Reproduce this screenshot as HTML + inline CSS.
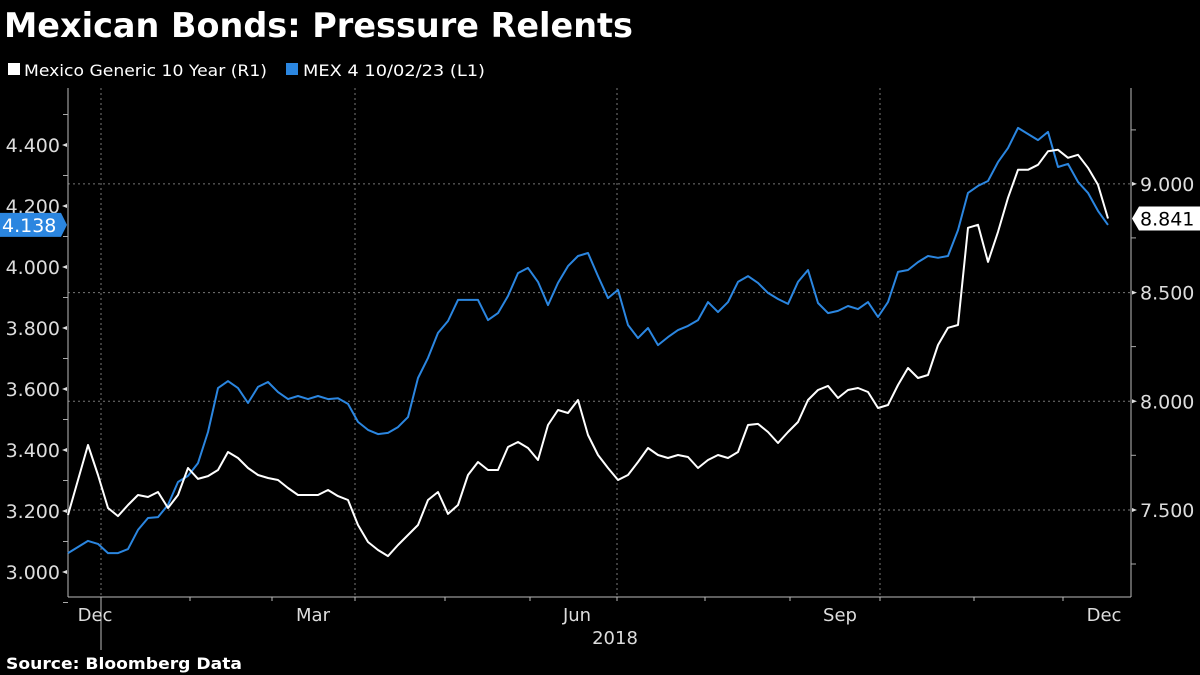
<!DOCTYPE html>
<html><head><meta charset="utf-8"><style>
html,body{margin:0;padding:0;background:#000;width:1200px;height:675px;overflow:hidden}
svg{display:block;font-family:"DejaVu Sans","Liberation Sans",sans-serif}
</style></head><body>
<svg id="chart" width="1200" height="675" viewBox="0 0 1200 675">
<text x="4" y="37" font-size="34" font-weight="bold" fill="#fff" textLength="629" lengthAdjust="spacingAndGlyphs">Mexican Bonds: Pressure Relents</text>
<g>
<g><rect x="8" y="63" width="12" height="12" fill="#fff"/><text x="24" y="76" font-size="16" fill="#fff" textLength="243" lengthAdjust="spacingAndGlyphs">Mexico Generic 10 Year  (R1)</text></g>
<g><rect x="286" y="63" width="12" height="12" fill="#2b86e0"/><text x="303" y="76" font-size="16" fill="#fff" textLength="182" lengthAdjust="spacingAndGlyphs">MEX 4 10/02/23  (L1)</text></g>
</g>
<g id="grid"></g>
<g id="axes"></g>
<g id="series"></g>
<g id="tags"></g>
<text x="615" y="644" font-size="18" fill="#ddd" text-anchor="middle">2018</text>
<text x="6" y="669" font-size="16" font-weight="bold" fill="#fff" textLength="236" lengthAdjust="spacingAndGlyphs">Source:  Bloomberg Data</text>
</svg>
<script>
const leftTicks=[3.0,3.2,3.4,3.6,3.8,4.0,4.2,4.4];
const rightTicks=[7.5,8.0,8.5,9.0];
const monthLabels=["Dec","Mar","Jun","Sep","Dec"];
const blueLast=4.138, whiteLast=8.841;
const blueValues=[3.062,3.082,3.102,3.092,3.062,3.062,3.075,3.138,3.177,3.180,3.220,3.295,3.315,3.357,3.459,3.603,3.626,3.603,3.554,3.607,3.623,3.590,3.567,3.577,3.567,3.577,3.567,3.570,3.551,3.492,3.466,3.452,3.456,3.475,3.508,3.636,3.702,3.784,3.823,3.892,3.892,3.892,3.826,3.849,3.905,3.980,3.997,3.951,3.875,3.948,4.003,4.036,4.046,3.970,3.898,3.925,3.810,3.767,3.800,3.744,3.770,3.793,3.807,3.826,3.885,3.852,3.885,3.951,3.970,3.948,3.915,3.895,3.879,3.951,3.990,3.882,3.849,3.856,3.872,3.862,3.885,3.836,3.885,3.984,3.990,4.016,4.036,4.030,4.036,4.121,4.243,4.266,4.282,4.344,4.390,4.456,4.436,4.416,4.443,4.328,4.338,4.279,4.243,4.184,4.138];
const whiteValues=[7.477,7.638,7.799,7.661,7.509,7.472,7.523,7.569,7.560,7.583,7.509,7.569,7.693,7.643,7.656,7.684,7.767,7.739,7.693,7.661,7.647,7.638,7.601,7.569,7.569,7.569,7.592,7.564,7.546,7.431,7.353,7.316,7.288,7.339,7.385,7.431,7.546,7.583,7.482,7.523,7.661,7.721,7.684,7.684,7.790,7.813,7.785,7.730,7.891,7.960,7.946,8.006,7.845,7.753,7.693,7.638,7.661,7.721,7.785,7.753,7.739,7.753,7.744,7.693,7.730,7.753,7.739,7.767,7.891,7.896,7.859,7.808,7.859,7.905,8.006,8.052,8.071,8.015,8.052,8.061,8.043,7.969,7.983,8.075,8.153,8.107,8.121,8.259,8.338,8.351,8.798,8.812,8.641,8.779,8.936,9.065,9.065,9.088,9.150,9.157,9.120,9.134,9.074,8.996,8.841];

const NS="http://www.w3.org/2000/svg";
const X0=68,X1=1131,Y0=88,Y1=597,XEND=1108;
const yL=v=>572-(v-3.0)/0.2*61;
const yR=v=>510-(v-7.5)/0.5*108.7;
const xI=i=>X0+(XEND-X0)*i/(blueValues.length-1);
function mk(tag,attrs,parent){const e=document.createElementNS(NS,tag);for(const k in attrs)e.setAttribute(k,attrs[k]);parent.appendChild(e);return e;}
const grid=document.getElementById('grid'),axes=document.getElementById('axes'),series=document.getElementById('series'),tags=document.getElementById('tags');
rightTicks.forEach(v=>{const l=mk('line',{x1:X0,x2:X1,y1:yR(v),y2:yR(v),stroke:'#777','stroke-width':1,'stroke-dasharray':'2,3'},grid);

});
[101,355,617,880].forEach(x=>{const l=mk('line',{x1:x,x2:x,y1:Y0,y2:Y1,stroke:'#777','stroke-width':1,'stroke-dasharray':'2,3'},grid);

});
mk('line',{x1:X0,x2:X0,y1:Y0,y2:Y1,stroke:'#bbb'},axes);
mk('line',{x1:X1,x2:X1,y1:Y0,y2:Y1,stroke:'#bbb'},axes);
mk('line',{x1:X0,x2:X1,y1:Y1,y2:Y1,stroke:'#bbb'},axes);
mk('line',{x1:101,x2:101,y1:Y1,y2:650,stroke:'#bbb'},axes);
[190,272,355,445,530,617,705,790,880,974,1063].forEach(x=>mk('line',{x1:x,x2:x,y1:Y1,y2:Y1+4,stroke:'#bbb'},axes));
leftTicks.forEach(v=>{const y=yL(v);
mk('path',{d:`M${X0-6} ${y}L${X0-1} ${y-2}L${X0-1} ${y+2}Z`,fill:'#ddd'},axes);
const t=mk('text',{x:X0-8,y:y+7,'font-size':19,fill:'#ddd','text-anchor':'end'},axes);t.textContent=v.toFixed(3);


mk('line',{x1:X0-5,x2:X0,y1:y-30.5,y2:y-30.5,stroke:'#aaa'},axes);});
mk('line',{x1:X0-5,x2:X0,y1:yL(3.0)+30.5,y2:yL(3.0)+30.5,stroke:'#aaa'},axes);
rightTicks.forEach(v=>{const y=yR(v);
mk('path',{d:`M${X1+6} ${y}L${X1+1} ${y-2}L${X1+1} ${y+2}Z`,fill:'#ddd'},axes);
const t=mk('text',{x:X1+9,y:y+7,'font-size':19,fill:'#ddd'},axes);t.textContent=v.toFixed(3);


mk('line',{x1:X1,x2:X1+5,y1:y+54,y2:y+54,stroke:'#aaa'},axes);});
mk('line',{x1:X1,x2:X1+5,y1:yR(9.0)-54,y2:yR(9.0)-54,stroke:'#aaa'},axes);
[95,313,577,840,1104].forEach((x,i)=>{const t=mk('text',{x:x,y:621,'font-size':18,fill:'#ddd','text-anchor':'middle'},axes);t.textContent=monthLabels[i];

});
const bp=mk('polyline',{points:blueValues.map((v,i)=>xI(i).toFixed(1)+','+yL(v).toFixed(1)).join(' '),fill:'none',stroke:'#2b86e0','stroke-width':2,'stroke-linejoin':'round'},series);


const wp=mk('polyline',{points:whiteValues.map((v,i)=>xI(i).toFixed(1)+','+yR(v).toFixed(1)).join(' '),fill:'none',stroke:'#fff','stroke-width':2,'stroke-linejoin':'round'},series);


const by=yL(blueLast);
const bt=mk('path',{d:`M0 ${by-12}L61 ${by-12}L67 ${by}L61 ${by+12}L0 ${by+12}Z`,fill:'#2b86e0'},tags);


const btx=mk('text',{x:2,y:by+7,'font-size':19,fill:'#fff'},tags);btx.textContent=blueLast.toFixed(3);
const wy=yR(whiteLast);
const wt=mk('path',{d:`M1132 ${wy}L1139 ${wy-12}L1200 ${wy-12}L1200 ${wy+12}L1139 ${wy+12}Z`,fill:'#fff'},tags);


const wtx=mk('text',{x:1140,y:wy+7,'font-size':19,fill:'#000'},tags);wtx.textContent=whiteLast.toFixed(3);
</script>
</body></html>
